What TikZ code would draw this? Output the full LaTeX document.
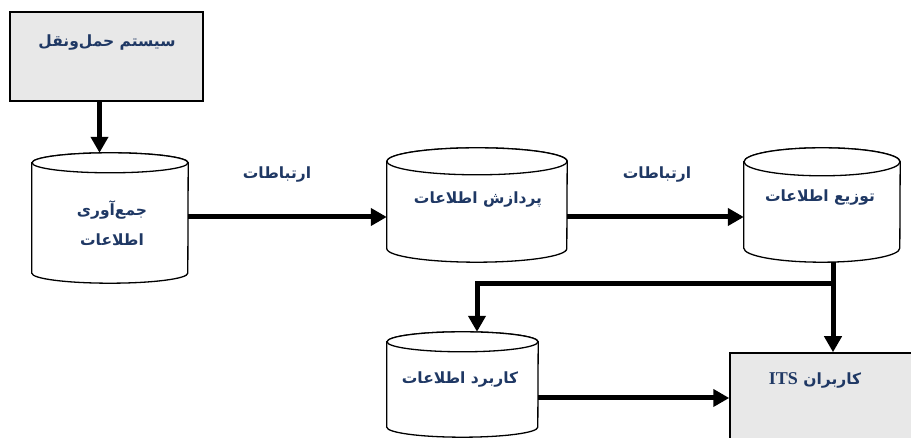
\documentclass[tikz,border=0pt]{standalone}
\usepackage{fontspec}
\TeXXeTstate=1
\newfontfamily\fa[Script=Arabic]{DejaVu Sans}
\newfontfamily\lat{Liberation Serif}
\usetikzlibrary{arrows.meta,calc}
\definecolor{txt}{HTML}{1F3864}
\definecolor{boxgray}{HTML}{E8E8E8}
\tikzset{
  cyl/.style={draw=black,line width=1.3pt,fill=white},
  graybox/.style={draw=black,line width=1.5pt,fill=boxgray,inner sep=0pt},
  arr/.style={line width=5pt,-{Triangle[length=16pt,width=17pt]}},
  conn/.style={line width=5pt},
  lbl/.style={text=txt,font=\fa\bfseries\fontsize{15.5}{18}\selectfont,inner sep=0pt},
}
\newcommand\cylinder[6]{%
  \node[inner sep=0pt,minimum width=#4pt,minimum height=#5pt] (#1) at (#2,#3) {};
  \draw[cyl] ([yshift=-#6pt]#1.north west) -- ([yshift=#6pt]#1.south west)
     arc[start angle=180,end angle=360,x radius=#4pt/2,y radius=#6pt]
     -- ([yshift=-#6pt]#1.north east)
     arc[start angle=0,end angle=180,x radius=#4pt/2,y radius=#6pt] -- cycle;
  \draw[cyl] ([yshift=-#6pt]#1.north) ellipse[x radius=#4pt/2,y radius=#6pt];
}
\begin{document}
\begin{tikzpicture}[x=1pt,y=1pt]
\useasboundingbox (0,0) rectangle (911,438);
\clip (0,0) rectangle (911,438);
\fill[white] (0,0) rectangle (911,438);
% boxes
\node[graybox,minimum width=193pt,minimum height=89pt] (box1) at (106.5,381.5) {};
\node[graybox,minimum width=200pt,minimum height=97pt] (its) at (830,36.5) {};
% cylinders
\cylinder{c1}{110}{220}{156}{130}{10}
\cylinder{c2}{477}{233}{180}{114}{13.5}
\cylinder{c3}{822}{233}{156}{114}{14}
\cylinder{c4}{462.5}{53.5}{151}{105}{10}
% connectors
\draw[arr] ([xshift=-7pt]box1.south) -- ([xshift=-7pt]box1.south |- c1.north);
\draw[arr] ([yshift=1pt]c1.east) -- ([yshift=1pt]c1.east -| c2.west);
\draw[arr] ([yshift=-12pt]c2.east) -- ([yshift=-12pt]c2.east -| c3.west);
\coordinate (j) at (833,154);
\coordinate (k) at (477,154);
\draw[arr] ([xshift=11pt]c3.south) -- ([xshift=11pt]c3.south |- its.north);
\draw[arr] (j) -- (k) -- (k |- c4.north);
\draw[arr] ([yshift=-13.5pt]c4.east) -- ([yshift=-13.5pt]c4.east -| its.west);
% texts
\node[lbl] (t0) at (107,395) {\beginR سیستم حمل‌ونقل\endR};
\node[lbl] (t1) at (112,228) {\beginR جمع‌آوری\endR};
\node[lbl] (t1b) at (112,198) {\beginR اطلاعات\endR};
\node[lbl] (l1) at (277,263) {\beginR ارتباطات\endR};
\node[lbl] (t2) at (478,238) {\beginR پردازش اطلاعات\endR};
\node[lbl] (l2) at (657,263) {\beginR ارتباطات\endR};
\node[lbl] (t3) at (820,240) {\beginR توزیع اطلاعات\endR};
\node[lbl] (t4) at (460,58) {\beginR کاربرد اطلاعات\endR};
\node[lbl] (t5) at (815,58) {{\lat\bfseries\fontsize{18}{20}\selectfont ITS}\ \beginR کاربران\endR};
\end{tikzpicture}
\end{document}
